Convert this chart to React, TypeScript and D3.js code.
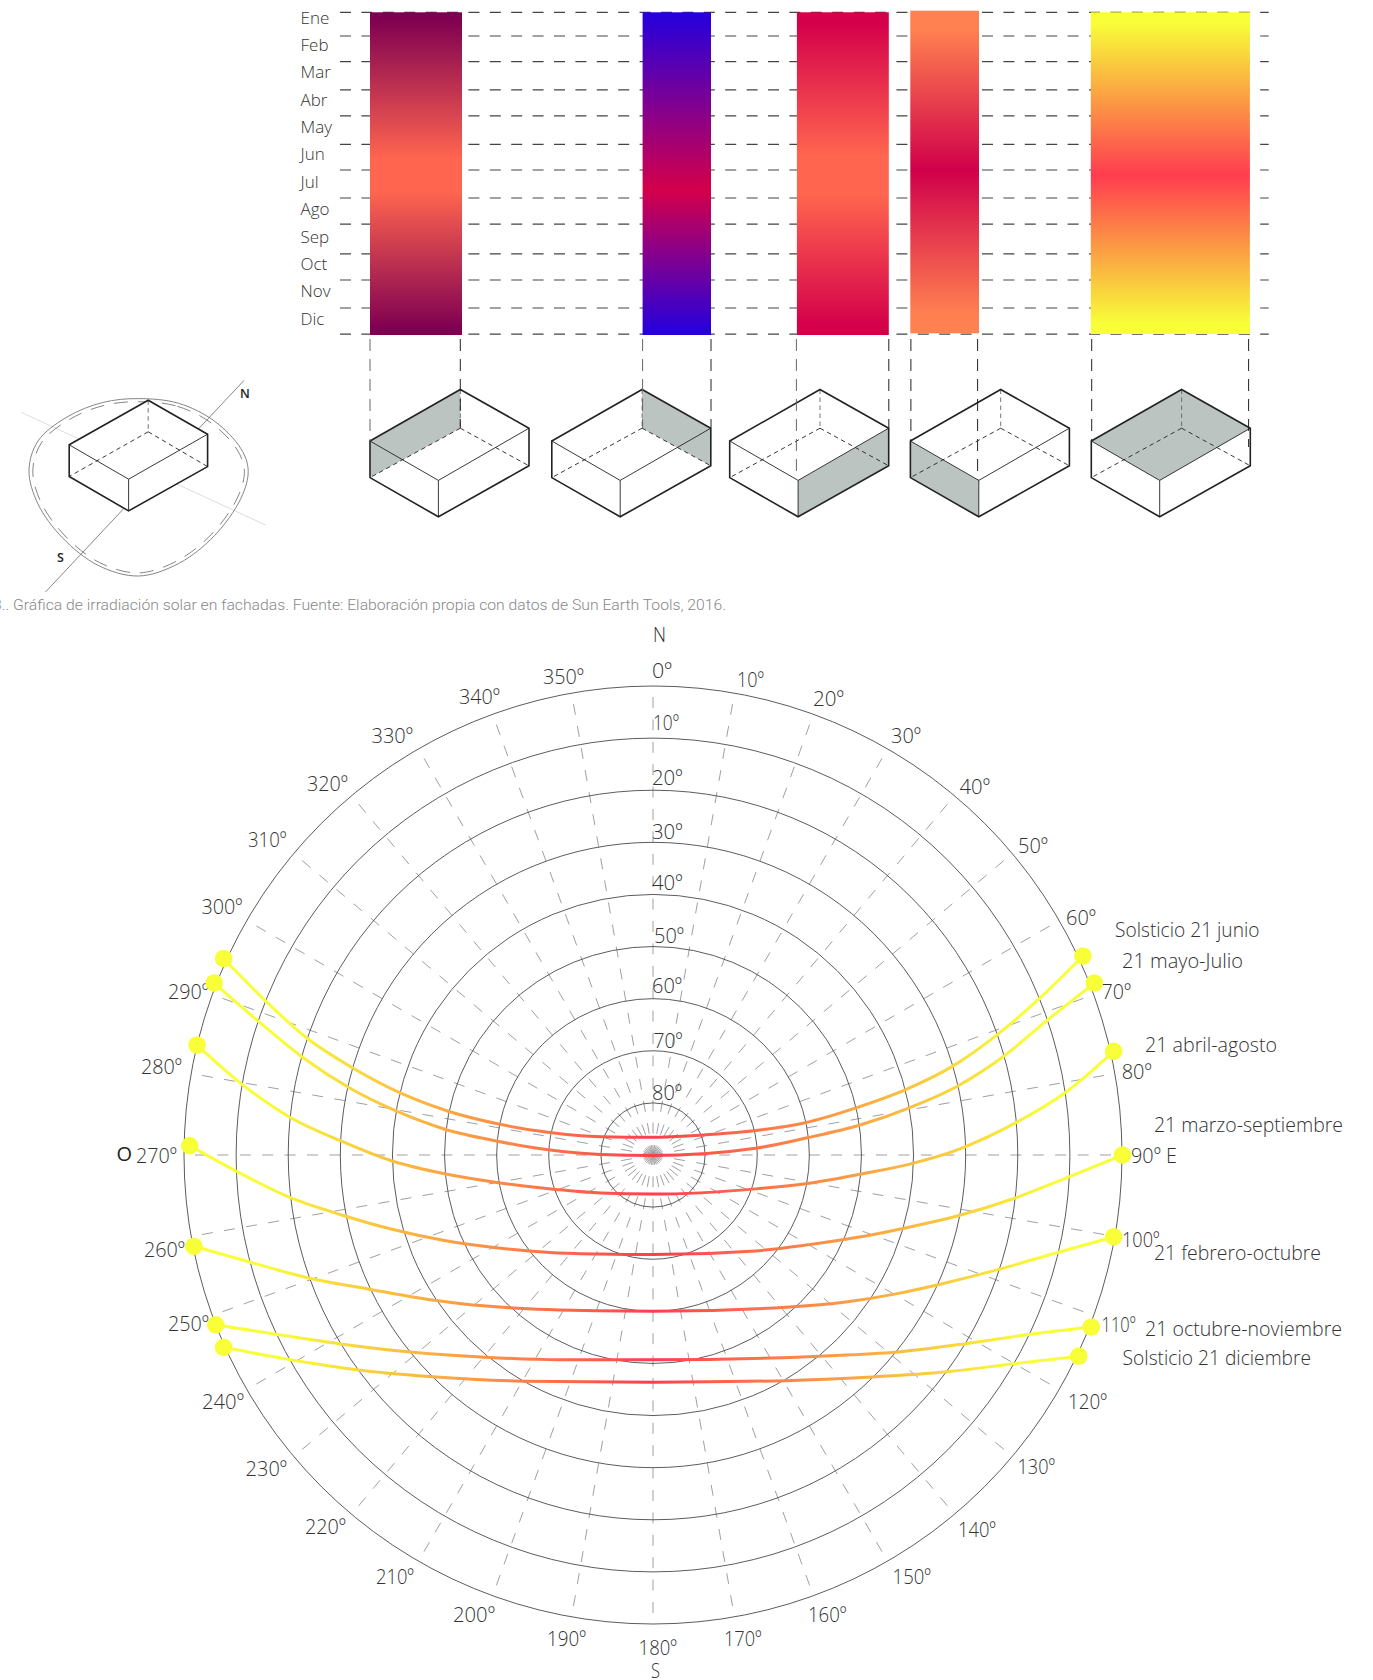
import React from "react";
import * as d3 from "d3";

// ---------- DATA ----------
const months = ["Ene", "Feb", "Mar", "Abr", "May", "Jun", "Jul", "Ago", "Sep", "Oct", "Nov", "Dic"];
const facadeNames = ["Oeste", "Norte", "Este", "Sur", "Cubierta"];
const facadeEdge = ["#7f0051", "#2a00d8", "#d4004a", "#ff8050", "#f8ff38"];
const facadeMid = ["#ff654f", "#d4004a", "#ff654f", "#d0004a", "#ff3c50"];
const facadePeak = [0.505, 0.55, 0.505, 0.494, 0.506];
const facadeHoldEdge = [0.02, 0.02, 0.03, 0.06, 0.03];
const facadeHoldMid = [0.05, 0, 0.06, 0, 0];
const azimuths = d3.range(0, 360, 10);
const altitudes = d3.range(0, 90, 10);

// sun paths: [east of zenith, south of zenith] in degrees of zenith angle
const pathJune = [[-82.4,-37.7],[-74.5,-29.7],[-66.5,-22.5],[-57.6,-16.7],[-48.5,-11.9],[-39.3,-8.4],[-29.4,-5.9],[-19.8,-4.3],[-10,-3.5],[0,-3.4],[9,-3.8],[20.5,-4.8],[29.2,-6.2],[39.1,-9.1],[48.6,-12.6],[57.6,-17.1],[66.2,-23.2],[74.1,-30],[82.5,-38.2]];
const pathMayJul = [[-84.2,-33],[-76,-25.9],[-67.2,-18.7],[-58.3,-12.9],[-49.2,-8.4],[-40.1,-5],[-30.1,-2.7],[-20.1,-1],[-10,-0.1],[0,0.1],[19.7,-1.3],[29.6,-3.3],[39.9,-5.8],[49.3,-9.1],[58.4,-13.2],[67.5,-19.1],[75.7,-25.9],[84.7,-33]];
const pathAprAug = [[-87.5,-21.1],[-78.9,-13.6],[-70.1,-7.5],[-59.9,-2.7],[-49.9,1.2],[-40,3.6],[-29,5.4],[-18.7,6.6],[-10,7.3],[0,7.5],[19.7,6.5],[30,5.4],[40.3,3.6],[49.8,1.6],[58.4,-1],[70,-6.4],[79,-11.9],[88.4,-19.9]];
const pathMarSep = [[-88.9,-1.8],[-80,3.1],[-69.8,8.1],[-59.1,11.7],[-49.9,14.3],[-40,16.4],[-30.1,17.8],[-19.8,18.7],[-10,19],[0,19.1],[19.7,18.4],[30,17.2],[39.9,15.7],[49.3,13.8],[58.4,11.7],[69.1,8.4],[79.8,4.2],[90.1,0]];
const pathFebOct = [[-88.1,17.5],[-78.9,20.1],[-65.7,23.7],[-54.7,25.7],[-45.2,27.4],[-36.3,28.6],[-27.5,29.3],[-10.7,29.9],[0,30],[25.5,29.2],[37,28.2],[46.9,26.6],[54.7,24.9],[65.8,22.1],[77.3,18.8],[88.4,15.7]];
const pathOctNov = [[-83.9,32.6],[-72.3,34.4],[-60.3,36.2],[-46.6,37.8],[-32.3,38.8],[-18,39.3],[0,39.3],[32,38.6],[46.9,37.8],[60.1,36.2],[72.4,34.4],[84.1,33]];
const pathDec = [[-82.4,36.9],[-69.5,39.3],[-57,41.2],[-43,42.5],[-24.9,43.4],[0,43.6],[25.5,43.3],[42,42.6],[56.4,41.6],[69.6,40],[81.7,38.6]];
const sunPaths = [pathJune, pathMayJul, pathAprAug, pathMarSep, pathFebOct, pathOctNov, pathDec];

// ---------- LAYOUT ----------
const W = 1373, H = 1680;
const cx = 653, cy = 1155, R = 469;
const rScale = d3.scaleLinear().domain([90, 0]).range([0, R]);
const xZen = d3.scaleLinear().domain([-90, 90]).range([cx - R, cx + R]);
const yZen = d3.scaleLinear().domain([-90, 90]).range([cy - R, cy + R]);
const sunLine = d3.line<number[]>().x(d => xZen(d[0])).y(d => yZen(d[1])).curve(d3.curveMonotoneX);

const gridY = [12.3, 36, 61.7, 89.8, 115.9, 144.3, 170, 198, 224.2, 253.9, 280, 308, 334.1];
const monthBase = [24, 51.4, 78.3, 106, 133, 160, 188, 215, 243, 270, 297, 325];
const bars = [
  { x0: 370, x1: 462, y0: 12.3, y1: 335 },
  { x0: 642.6, x1: 711, y0: 12.3, y1: 335 },
  { x0: 796.9, x1: 888.8, y0: 12.3, y1: 335 },
  { x0: 910.3, x1: 979, y0: 10.7, y1: 333.3 },
  { x0: 1090.8, x1: 1249.9, y0: 12.3, y1: 334 },
];
const drop = [
  [370, 441, "#666"], [460.3, 428, "#222"], [642.6, 428, "#666"], [711, 428, "#222"], [796.4, 480, "#666"],
  [888.8, 428, "#222"], [910.9, 441, "#222"], [977.6, 480, "#222"], [1091.7, 441, "#222"], [1248.6, 447, "#222"],
] as [number, number, string][];
const boxX = [370, 551.8, 729.7, 910.4, 1091.3];
const boxY = 441;
const P: Record<string, [number, number]> = {
  L: [0, 0], B: [90.3, -51.5], R: [159, -12.8], F: [68.4, 39.4],
  LB: [0, 36.6], FB: [68.4, 75.8], RB: [159, 24.8], BB: [90.3, -12.8],
};
const shaded = [["L", "B", "BB", "LB"], ["B", "R", "RB", "BB"], ["F", "R", "RB", "FB"], ["L", "F", "FB", "LB"], ["L", "B", "R", "F"]];

const small: Record<string, [number, number]> = {
  L: [69.2, 444.8], B: [148.2, 400.2], R: [207.6, 434.2], F: [128.6, 479.2],
  LB: [69.2, 476.5], FB: [128.6, 510.9], RB: [207.6, 466.6], BB: [148.2, 431.8],
};
const blob: [number, number][] = [[138.4,398.6],[178.6,403.3],[214.3,421],[241,448.8],[248.2,470.5],[241,498.2],[214.3,535.8],[178.6,563.5],[138.4,576],[98.2,565.4],[62.5,537.8],[38,504],[29,470.5],[38,441],[67,417],[102.7,402.5]];
const blobLine = d3.line().curve(d3.curveCatmullRomClosed.alpha(0.5));
const blobInner = blob.map(([x, y]) => [138.5 + (x - 138.5) * 0.965, 487 + (y - 487) * 0.965] as [number, number]);

const polarLabels: [string, number, number, number][] = [
  ["0º", 653, 678, 20], ["10º", 738, 687, 27], ["20º", 814, 706, 31], ["30º", 892, 742.5, 30], ["40º", 960.5, 794, 30.5],
  ["50º", 1019, 852.5, 30], ["60º", 1067, 925, 30], ["70º", 1102.6, 999, 29.5], ["80º", 1122.7, 1079, 30],
  ["90º E", 1132, 1163, 46], ["100º", 1123, 1247, 37.5], ["110º", 1102.6, 1332, 34], ["120º", 1069, 1408.6, 39],
  ["130º", 1018.5, 1473.5, 37.5], ["140º", 959, 1537, 38], ["150º", 893.6, 1584, 38.4], ["160º", 809, 1622, 38.6],
  ["170º", 725, 1646, 37.7], ["180º", 639.6, 1655, 38.4], ["190º", 548, 1646, 39], ["200º", 454, 1622, 42],
  ["210º", 377, 1584, 38], ["220º", 306, 1534, 41], ["230º", 246.6, 1476, 41.4], ["240º", 203, 1408.6, 42],
  ["250º", 169, 1331, 41], ["260º", 145, 1257, 41], ["270º", 137, 1163, 41], ["280º", 142, 1073.6, 41],
  ["290º", 169, 999, 41], ["300º", 202.5, 913.6, 41], ["310º", 249, 847, 38.5], ["320º", 308, 791, 41],
  ["330º", 372.5, 742.5, 41.5], ["340º", 460, 704, 41], ["350º", 544, 683.6, 41],
  ["10º", 654, 730, 26], ["20º", 653, 785, 30.6], ["30º", 653, 838.6, 30.6], ["40º", 653, 890, 30.6],
  ["50º", 655, 943, 30], ["60º", 653, 993, 30], ["70º", 654.5, 1047.5, 29], ["80º", 653, 1100, 30],
  ["N", 654, 642, 13], ["S", 652, 1678, 9],
  ["Solsticio 21 junio", 1116, 937, 144.5], ["21 mayo-Julio", 1123, 968, 121], ["21 abril-agosto", 1146, 1052, 132],
  ["21 marzo-septiembre", 1155, 1131.5, 189], ["21 febrero-octubre", 1155, 1260, 167],
  ["21 octubre-noviembre", 1146, 1336, 197], ["Solsticio 21 diciembre", 1123.6, 1365, 188.4],
];

const FONT = "'Open Sans', sans-serif";
const sunEdge = "#f8ff38", sunMid = "#ff3c50";

function IsoBox({ x0, shade, pts }: { x0: number; shade?: string[]; pts?: Record<string, [number, number]> }) {
  const p = (k: string): [number, number] => (pts ? pts[k] : [x0 + P[k][0], boxY + P[k][1]]);
  const seg = (a: string, b: string, extra: any) => (
    <line key={a + b} x1={p(a)[0]} y1={p(a)[1]} x2={p(b)[0]} y2={p(b)[1]} {...extra} />
  );
  const outline = ["L", "B", "R", "RB", "FB", "LB"];
  const heavy = { stroke: "#222", strokeWidth: 1.6, fill: "none" };
  const thin = { stroke: "#222", strokeWidth: 0.9 };
  const dash = { stroke: "#222", strokeWidth: 0.9, strokeDasharray: "4.5 3.5" };
  return (
    <g>
      <polygon points={outline.map(k => p(k).join(",")).join(" ")} fill="#fff" />
      {shade && <polygon points={shade.map(k => p(k).join(",")).join(" ")} fill="#bcc4c1" />}
      {seg("BB", "LB", dash)}
      {seg("BB", "RB", dash)}
      {seg("B", "BB", { ...dash, stroke: "#666" })}
      {seg("L", "F", thin)}
      {seg("F", "R", thin)}
      {seg("F", "FB", thin)}
      <polygon points={outline.map(k => p(k).join(",")).join(" ")} {...heavy} />
    </g>
  );
}

export default function App() {
  return (
    <svg width={W} height={H} viewBox={`0 0 ${W} ${H}`} style={{ position: "absolute", left: 0, top: 0, background: "#fff" }}>
      <defs>
        {facadeNames.map((n, i) => {
          const pk = facadePeak[i], he = facadeHoldEdge[i], hm = facadeHoldMid[i];
          return (
            <linearGradient key={n} id={`bar${i}`} x1="0" y1="0" x2="0" y2="1">
              <stop offset="0" stopColor={facadeEdge[i]} />
              <stop offset={he} stopColor={facadeEdge[i]} />
              <stop offset={pk - hm} stopColor={facadeMid[i]} />
              <stop offset={pk + hm} stopColor={facadeMid[i]} />
              <stop offset={1 - he} stopColor={facadeEdge[i]} />
              <stop offset="1" stopColor={facadeEdge[i]} />
            </linearGradient>
          );
        })}
        <linearGradient id="sun" x1="0" y1="0" x2="1" y2="0">
          <stop offset="0" stopColor={sunEdge} />
          <stop offset="0.07" stopColor={sunEdge} />
          <stop offset="0.5" stopColor={sunMid} />
          <stop offset="0.93" stopColor={sunEdge} />
          <stop offset="1" stopColor={sunEdge} />
        </linearGradient>
      </defs>

      {/* month grid */}
      {gridY.map((y, i) => (
        <line key={i} x1={340} x2={1268.7} y1={y} y2={y} stroke="#444" strokeWidth={1.2} strokeDasharray="11 10.4" />
      ))}
      {months.map((m, i) => (
        <text key={m} x={300.5} y={monthBase[i]} fontFamily={FONT} fontWeight={300} fontSize={17} fill="#333">{m}</text>
      ))}
      {bars.map((b, i) => (
        <rect key={i} x={b.x0} y={b.y0} width={b.x1 - b.x0} height={b.y1 - b.y0} fill={`url(#bar${i})`} />
      ))}

      {/* boxes */}
      {boxX.map((x, i) => (
        <IsoBox key={i} x0={x} shade={shaded[i]} />
      ))}
      {drop.map(([x, y1, c], i) => (
        <line key={i} x1={x} x2={x} y1={339} y2={y1} stroke={c} strokeWidth={1} strokeDasharray="12 8" />
      ))}

      {/* small site diagram */}
      <line x1={21.4} y1={412.4} x2={265.6} y2={525} stroke="#ddd" strokeWidth={1} />
      <line x1={244} y1={380.4} x2={45.5} y2={592} stroke="#888" strokeWidth={1} />
      <path d={blobLine(blob) as string} fill="none" stroke="#777" strokeWidth={0.9} />
      <path d={blobLine(blobInner) as string} fill="none" stroke="#777" strokeWidth={0.9} strokeDasharray="14 10" />
      <IsoBox x0={0} pts={small} />
      <text x={240} y={398} fontFamily={FONT} fontWeight={600} fontSize={12.5} fill="#222">N</text>
      <text x={57} y={561.5} fontFamily={FONT} fontWeight={600} fontSize={12.5} fill="#222">S</text>

      {/* caption */}
      <text x={-7} y={610} fontFamily="Roboto, sans-serif" fontWeight={300} fontSize={15} fill="#888" textLength={733} lengthAdjust="spacingAndGlyphs">
        3.. Gráfica de irradiación solar en fachadas. Fuente: Elaboración propia con datos de Sun Earth Tools, 2016.
      </text>

      {/* polar grid */}
      {azimuths.map(a => {
        const t = (a * Math.PI) / 180;
        const r = R - 11;
        return (
          <line key={a} x1={cx + r * Math.sin(t)} y1={cy - r * Math.cos(t)} x2={cx} y2={cy} stroke="#a0a0a0" strokeWidth={1} strokeDasharray="11 11.4" />
        );
      })}
      {altitudes.map(alt => (
        <circle key={alt} cx={cx} cy={cy} r={rScale(alt)} fill="none" stroke="#4a4a4a" strokeWidth={0.9} />
      ))}

      {polarLabels.map(([t, x, y, w], i) => (
        <text key={i} x={x - 1} y={y} fontFamily={FONT} fontWeight={300} fontSize={21} fill="#333" textLength={w} lengthAdjust="spacingAndGlyphs">{t}</text>
      ))}
      <text x={116.6} y={1161} fontFamily={FONT} fontWeight={400} fontSize={20} fill="#222">O</text>

      {/* sun paths */}
      {sunPaths.map((s, i) => (
        <path key={i} d={sunLine(s) as string} fill="none" stroke="url(#sun)" strokeWidth={3} />
      ))}
      {sunPaths.map((s, i) => (
        <g key={i}>
          {[s[0], s[s.length - 1]].map((d, j) => (
            <circle key={j} cx={xZen(d[0])} cy={yZen(d[1])} r={8.8} fill="#f8ff38" />
          ))}
        </g>
      ))}
    </svg>
  );
}
